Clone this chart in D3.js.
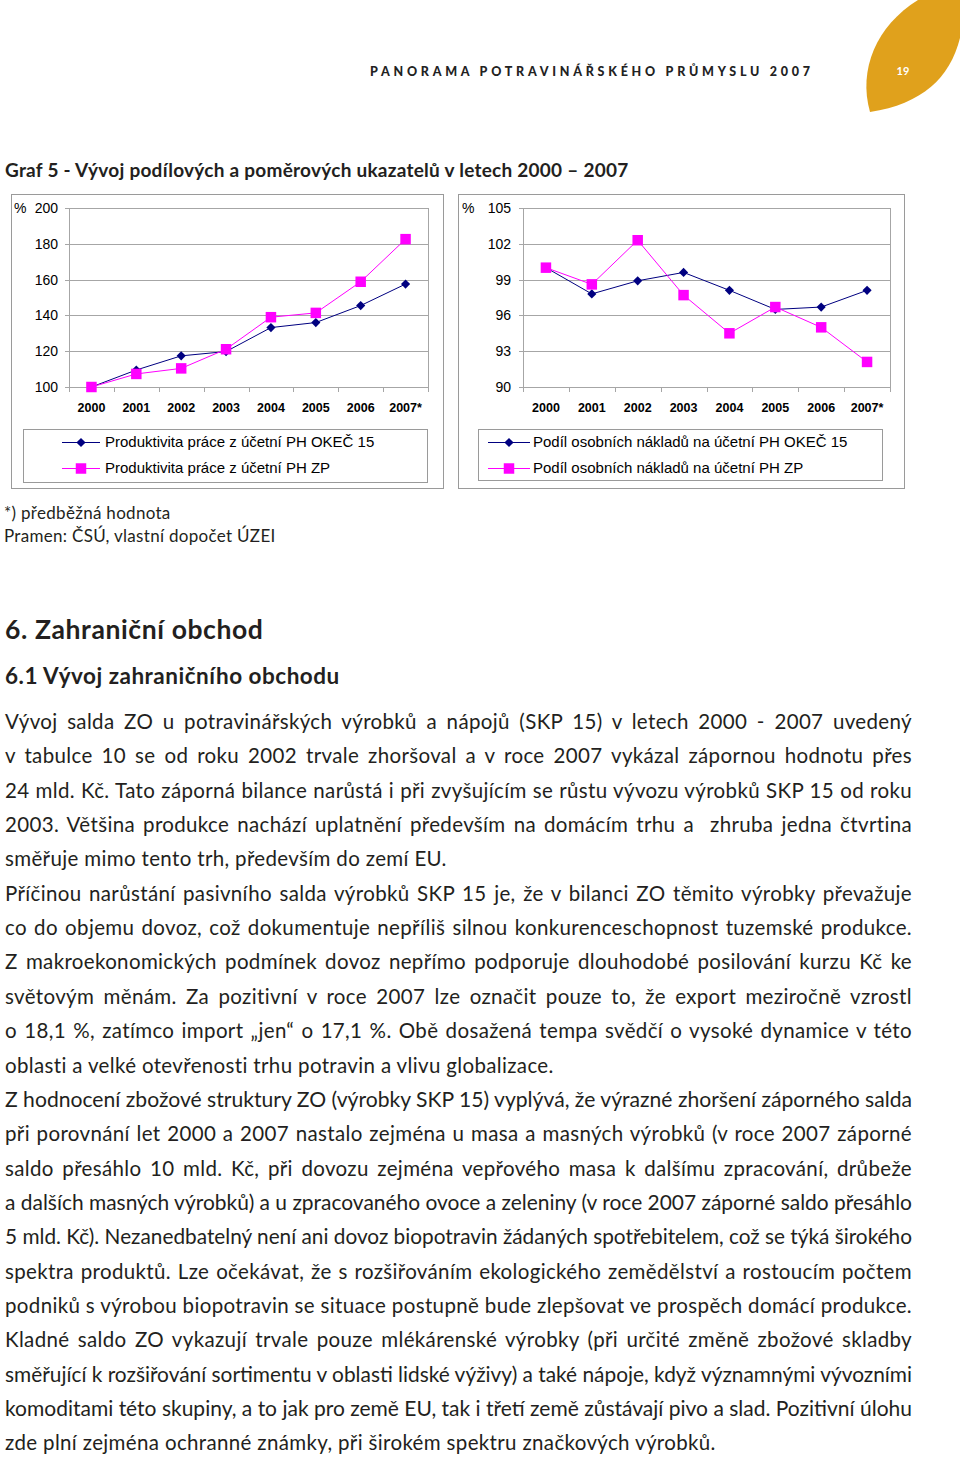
<!DOCTYPE html>
<html><head><meta charset="utf-8">
<script src="https://cdn.jsdelivr.net/npm/d3@7"></script>
<style>
html,body{margin:0;padding:0;background:#fff;}
svg{display:block;}
</style></head>
<body>
<script>
// ---------- data ----------
const years = ["2000","2001","2002","2003","2004","2005","2006","2007*"];
const prodOKEC = [100,109.5,117.4,119.8,133.2,136.0,145.5,157.5];
const prodZP   = [100,107.3,110.4,121.1,139.0,141.4,158.8,182.6];
const podilOKEC = [100,97.8,98.9,99.6,98.1,96.5,96.7,98.1];
const podilZP   = [100,98.6,102.3,97.7,94.5,96.7,95.0,92.1];
const leftTicks  = [100,120,140,160,180,200];
const rightTicks = [90,93,96,99,102,105];
const leftLegend  = ["Produktivita práce z účetní PH OKEČ 15","Produktivita práce z účetní PH ZP"];
const rightLegend = ["Podíl osobních nákladů na účetní PH OKEČ 15","Podíl osobních nákladů na účetní PH ZP"];

const bodyLines = [
 ["Vývoj salda ZO u potravinářských výrobků a nápojů (SKP 15) v letech 2000 - 2007 uvedený", true],
 ["v tabulce 10 se od roku 2002 trvale zhoršoval a v roce 2007 vykázal zápornou hodnotu přes", true],
 ["24 mld. Kč. Tato záporná bilance narůstá i při zvyšujícím se růstu vývozu výrobků SKP 15 od roku", true],
 ["2003. Většina produkce nachází uplatnění především na domácím trhu a  zhruba jedna čtvrtina", true],
 ["směřuje mimo tento trh, především do zemí EU.", false],
 ["Příčinou narůstání pasivního salda výrobků SKP 15 je, že v bilanci ZO těmito výrobky převažuje", true],
 ["co do objemu dovoz, což dokumentuje nepříliš silnou konkurenceschopnost tuzemské produkce.", true],
 ["Z makroekonomických podmínek dovoz nepřímo podporuje dlouhodobé posilování kurzu Kč ke", true],
 ["světovým měnám. Za pozitivní v roce 2007 lze označit pouze to, že export meziročně vzrostl", true],
 ["o 18,1 %, zatímco import „jen“ o 17,1 %. Obě dosažená tempa svědčí o vysoké dynamice v této", true],
 ["oblasti a velké otevřenosti trhu potravin a vlivu globalizace.", false],
 ["Z hodnocení zbožové struktury ZO (výrobky SKP 15) vyplývá, že výrazné zhoršení záporného salda", true],
 ["při porovnání let 2000 a 2007 nastalo zejména u masa a masných výrobků (v roce 2007 záporné", true],
 ["saldo přesáhlo 10 mld. Kč, při dovozu zejména vepřového masa k dalšímu zpracování, drůbeže", true],
 ["a dalších masných výrobků) a u zpracovaného ovoce a zeleniny (v roce 2007 záporné saldo přesáhlo", true],
 ["5 mld. Kč). Nezanedbatelný není ani dovoz biopotravin žádaných spotřebitelem, což se týká širokého", true],
 ["spektra produktů. Lze očekávat, že s rozšiřováním ekologického zemědělství a rostoucím počtem", true],
 ["podniků s výrobou biopotravin se situace postupně bude zlepšovat ve prospěch domácí produkce.", true],
 ["Kladné saldo ZO vykazují trvale pouze mlékárenské výrobky (při určité změně zbožové skladby", true],
 ["směřující k rozšiřování sortimentu v oblasti lidské výživy) a také nápoje, když významnými vývozními", true],
 ["komoditami této skupiny, a to jak pro země EU, tak i třetí země zůstávají pivo a slad. Pozitivní úlohu", true],
 ["zde plní zejména ochranné známky, při širokém spektru značkových výrobků.", false]
];

// ---------- page ----------
const W = 960, H = 1457;
const svg = d3.select("body").append("svg").attr("width", W).attr("height", H);
const TXT = "#231f20";
const GS = "Lato, 'Open Sans', sans-serif";
const AR = "'Liberation Sans', Arial, sans-serif";

// leaf + page number
svg.append("path")
  .attr("d","M870,112 C858,70 876,26 918,0 L960,0 L960,38 C950,78 922,104 870,112 Z")
  .attr("fill","#e0a11c");
svg.append("text").attr("x",903).attr("y",75).attr("text-anchor","middle")
  .attr("font-family",GS).attr("font-weight","bold").attr("font-size",11).attr("fill","#fff").text("19");

svg.append("text").attr("x",370).attr("y",76)
  .attr("font-family",GS).attr("font-weight","900").attr("font-size",12.5).attr("fill","#222")
  .attr("textLength",440).attr("lengthAdjust","spacing")
  .text("PANORAMA POTRAVINÁŘSKÉHO PRŮMYSLU 2007");

svg.append("text").attr("x",5).attr("y",177)
  .attr("font-family",GS).attr("font-weight","bold").attr("font-size",19).attr("fill",TXT)
  .style("letter-spacing","0.25px")
  .text("Graf 5 - Vývoj podílových a poměrových ukazatelů v letech 2000 – 2007");

// ---------- chart ----------
function drawChart(cfg){
  const g = svg.append("g");
  g.append("rect").attr("x",cfg.box[0]+0.5).attr("y",cfg.box[1]+0.5)
    .attr("width",cfg.box[2]-cfg.box[0]).attr("height",cfg.box[3]-cfg.box[1])
    .attr("fill","#fff").attr("stroke","#9a9a9a").attr("stroke-width",1);
  const x = d3.scaleBand().domain(years).range([cfg.plot[0], cfg.plot[2]]).padding(0);
  const y = d3.scaleLinear().domain(cfg.domain).range([cfg.plot[3], cfg.plot[1]]);
  g.selectAll("line.grid").data(cfg.ticks).join("line")
    .attr("x1",cfg.plot[0]-4).attr("x2",cfg.plot[2])
    .attr("y1",d=>Math.round(y(d))+0.5).attr("y2",d=>Math.round(y(d))+0.5)
    .attr("stroke","#a6a6a6").attr("stroke-width",1);
  g.append("line").attr("x1",cfg.plot[0]+0.5).attr("x2",cfg.plot[0]+0.5)
    .attr("y1",cfg.plot[1]).attr("y2",cfg.plot[3]).attr("stroke","#a6a6a6");
  g.append("line").attr("x1",cfg.plot[2]+0.5).attr("x2",cfg.plot[2]+0.5)
    .attr("y1",cfg.plot[1]).attr("y2",cfg.plot[3]).attr("stroke","#a6a6a6");
  const bounds = years.map(d=>x(d)).concat([x(years[years.length-1])+x.bandwidth()]);
  g.selectAll("line.xt").data(bounds).join("line")
    .attr("x1",d=>Math.round(d)+0.5).attr("x2",d=>Math.round(d)+0.5)
    .attr("y1",cfg.plot[3]).attr("y2",cfg.plot[3]+5)
    .attr("stroke","#a6a6a6");
  g.selectAll("text.yl").data(cfg.ticks).join("text")
    .attr("x",cfg.ylx).attr("y",d=>y(d)).attr("dy","0.36em").attr("text-anchor","end")
    .attr("font-family",AR).attr("font-size",14).attr("fill","#000")
    .text(d=>d);
  g.append("text").attr("x",cfg.pctx).attr("y",y(cfg.domain[1])).attr("dy","0.36em")
    .attr("font-family",AR).attr("font-size",14).attr("fill","#000").text("%");
  g.selectAll("text.xl").data(years).join("text")
    .attr("x",d=>x(d)+x.bandwidth()/2).attr("y",cfg.plot[3]+25).attr("text-anchor","middle")
    .attr("font-family",AR).attr("font-weight","bold").attr("font-size",12.5).attr("fill","#000")
    .text(d=>d);
  const cx = (d,i)=>x(years[i])+x.bandwidth()/2;
  const line = d3.line().x(cx).y(d=>y(d));
  const diamond = d3.symbol().type(d3.symbolSquare).size(42);
  const square = d3.symbol().type(d3.symbolSquare).size(110);
  g.append("path").attr("d",line(cfg.s1)).attr("fill","none").attr("stroke","#000080").attr("stroke-width",1);
  g.append("path").attr("d",line(cfg.s2)).attr("fill","none").attr("stroke","#ff00ff").attr("stroke-width",1);
  g.selectAll("path.m1").data(cfg.s1).join("path")
    .attr("d",diamond).attr("transform",(d,i)=>`translate(${cx(d,i)},${y(d)}) rotate(45)`)
    .attr("fill","#000080");
  g.selectAll("path.m2").data(cfg.s2).join("path")
    .attr("d",square).attr("transform",(d,i)=>`translate(${cx(d,i)},${y(d)})`)
    .attr("fill","#ff00ff");
  const L = cfg.legend;
  g.append("rect").attr("x",L.box[0]+0.5).attr("y",L.box[1]+0.5)
    .attr("width",L.box[2]-L.box[0]).attr("height",L.box[3]-L.box[1])
    .attr("fill","#fff").attr("stroke","#9a9a9a");
  const items = [{c:"#000080",sym:diamond,rot:45,label:L.labels[0],y:L.ys[0]},
                 {c:"#ff00ff",sym:square,rot:0,label:L.labels[1],y:L.ys[1]}];
  items.forEach(it=>{
    g.append("line").attr("x1",L.lx[0]).attr("x2",L.lx[1]).attr("y1",it.y+0.5).attr("y2",it.y+0.5)
      .attr("stroke",it.c).attr("stroke-width",1);
    g.append("path").attr("d",it.sym).attr("transform",`translate(${(L.lx[0]+L.lx[1])/2},${it.y+0.5}) rotate(${it.rot})`)
      .attr("fill",it.c);
    g.append("text").attr("x",L.tx).attr("y",it.y).attr("dy","0.36em")
      .attr("font-family",AR).attr("font-size",15).attr("fill","#000").text(it.label);
  });
}

drawChart({box:[11,194,443,488], plot:[69,208,428,387], domain:[100,200], ticks:leftTicks,
  ylx:58, pctx:14, s1:prodOKEC, s2:prodZP,
  legend:{box:[23,429,427,482], ys:[442,468], lx:[62,100], tx:105, labels:leftLegend}});
drawChart({box:[458,194,904,488], plot:[523,208,890,387], domain:[90,105], ticks:rightTicks,
  ylx:511, pctx:462, s1:podilOKEC, s2:podilZP,
  legend:{box:[478,429,882,480], ys:[442,468], lx:[488,530], tx:533, labels:rightLegend}});

// footnotes
svg.append("text").attr("x",4).attr("y",519).attr("font-family",GS).attr("font-size",17).attr("fill",TXT)
  .style("letter-spacing","0.3px").text("*) předběžná hodnota");
svg.append("text").attr("x",4).attr("y",542).attr("font-family",GS).attr("font-size",17).attr("fill",TXT)
  .style("letter-spacing","0.3px").text("Pramen: ČSÚ, vlastní dopočet ÚZEI");

// headings
svg.append("text").attr("x",5).attr("y",639).attr("font-family",GS).attr("font-weight","bold")
  .attr("font-size",26.5).attr("fill",TXT).style("letter-spacing","0.6px").text("6. Zahraniční obchod");
svg.append("text").attr("x",5).attr("y",684).attr("font-family",GS).attr("font-weight","bold")
  .attr("font-size",22.5).attr("fill",TXT).style("letter-spacing","0.5px").text("6.1 Vývoj zahraničního obchodu");

// body text, justified line by line
const left = 5, right = 912, base0 = 729, lh = 34.35;
bodyLines.forEach(([s, just], i)=>{
  const t = svg.append("text").attr("x",left).attr("y",base0 + i*lh)
    .attr("font-family",GS).attr("font-size",20.5).attr("fill",TXT)
    .style("letter-spacing","0.35px")
    .style("white-space","pre").text(s);
  if (just){
    const w = t.node().getComputedTextLength();
    const n = (s.match(/ /g)||[]).length;
    const extra = (right-left) - w;
    if (extra >= 0 && n>0){
      t.style("word-spacing", (extra/n)+"px");
    } else {
      t.style("letter-spacing", null)
       .attr("textLength", right-left).attr("lengthAdjust","spacingAndGlyphs");
    }
  }
});
</script>
</body></html>
